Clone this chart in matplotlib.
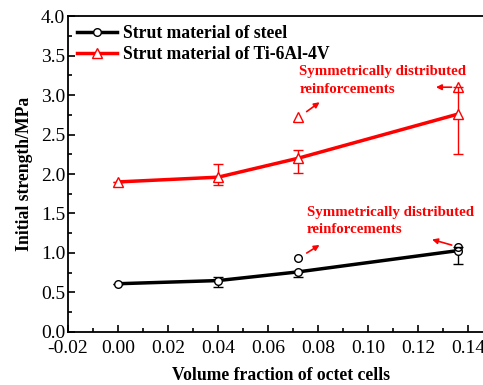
import matplotlib.pyplot as plt
from matplotlib.ticker import MultipleLocator

plt.rcParams['font.family'] = ['Liberation Serif', 'DejaVu Serif']

# data
vf = [0.0, 0.04, 0.072, 0.136]
steel = [0.61, 0.65, 0.76, 1.03]
steel_err_lo = [0.0, 0.08, 0.06, 0.17]
steel_err_hi = [0.0, 0.04, 0.0, 0.05]
ti = [1.90, 1.96, 2.20, 2.76]
ti_err_lo = [0.0, 0.10, 0.19, 0.51]
ti_err_hi = [0.0, 0.17, 0.11, 0.34]

# symmetrically distributed reinforcements
sym_vf = [0.072, 0.136]
sym_steel = [0.93, 1.08]
sym_ti = [2.72, 3.10]

fig = plt.figure(figsize=(4.83, 3.85), dpi=100)
ax = fig.add_axes([0.141, 0.138, 0.88, 0.82])

ax.errorbar(vf, steel, yerr=[steel_err_lo, steel_err_hi], fmt='none',
            ecolor='black', elinewidth=1.0, capsize=3.5, capthick=1.0)
ax.errorbar(vf, ti, yerr=[ti_err_lo, ti_err_hi], fmt='none',
            ecolor='red', elinewidth=1.0, capsize=3.5, capthick=1.0)
ax.plot(vf, steel, color='black', lw=2.5, marker='o', ms=5.5, mfc='white',
        mec='black', mew=1.0, label='Strut material of steel')
ax.plot(vf, ti, color='red', lw=2.5, marker='^', ms=6.5, mfc='white',
        mec='red', mew=1.0, label='Strut material of Ti-6Al-4V')
ax.plot(sym_vf, sym_steel, 'o', ms=5.5, mfc='none', mec='black', mew=1.0)
ax.plot(sym_vf, sym_ti, '^', ms=6.5, mfc='none', mec='red', mew=1.0)

ax.set_xlim(-0.02, 0.15)
ax.set_ylim(0, 4.0)
ax.xaxis.set_major_locator(MultipleLocator(0.02))
ax.xaxis.set_minor_locator(MultipleLocator(0.01))
ax.yaxis.set_major_locator(MultipleLocator(0.5))
ax.yaxis.set_minor_locator(MultipleLocator(0.25))
ax.set_xticklabels(['%.2f' % t for t in ax.get_xticks()])
ax.set_yticklabels(['%.1f' % t for t in ax.get_yticks()])
ax.tick_params(which='both', direction='in', labelsize=14, width=1.2)
ax.tick_params(which='major', length=5)
ax.tick_params(which='minor', length=3)
ax.tick_params(axis='y', pad=2)
ax.tick_params(axis='x', pad=6)
for s in ax.spines.values():
    s.set_linewidth(1.3)

ax.set_xlabel('Volume fraction of octet cells', fontsize=12.7, fontweight='bold', labelpad=7)
ax.set_ylabel('Initial strength/MPa', fontsize=12.7, fontweight='bold', labelpad=6)

leg = ax.legend(loc='upper left', frameon=False, prop={'weight': 'bold', 'size': 12.7},
                handlelength=2.3, borderaxespad=0.1, labelspacing=0.25, handletextpad=0.3)

# annotations
red = 'red'
ax.text(0.0725, 3.03, 'Symmetrically distributed\nreinforcements', color=red,
        fontsize=10.7, fontweight='bold', linespacing=1.45)
ax.text(0.0755, 1.25, 'Symmetrically distributed\nreinforcements', color=red,
        fontsize=10.7, fontweight='bold', linespacing=1.45)
arrow = dict(arrowstyle='-|>', color=red, lw=1.2, mutation_scale=8)
ax.annotate('', xy=(0.0815, 2.93), xytext=(0.0745, 2.77), arrowprops=arrow)
ax.annotate('', xy=(0.126, 3.10), xytext=(0.1345, 3.10), arrowprops=arrow)
ax.annotate('', xy=(0.0815, 1.12), xytext=(0.0745, 0.98), arrowprops=arrow)
ax.annotate('', xy=(0.1245, 1.18), xytext=(0.1345, 1.09), arrowprops=arrow)

fig.savefig('out.png', dpi=100)
